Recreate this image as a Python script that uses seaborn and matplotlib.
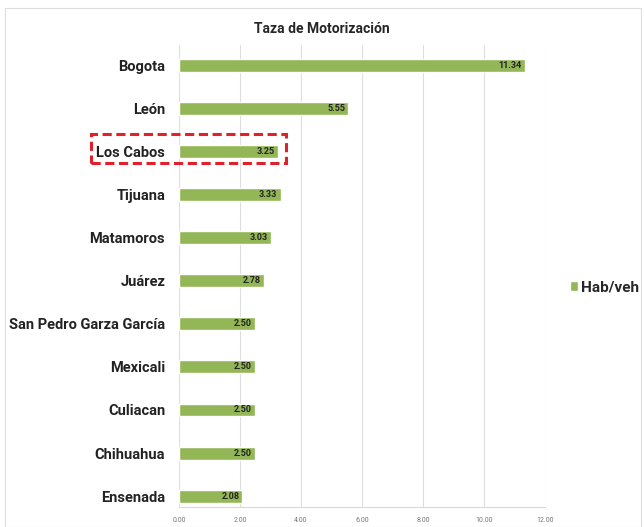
import matplotlib
matplotlib.use("Agg")
import matplotlib.pyplot as plt
import seaborn as sns
import pandas as pd
from matplotlib.patches import Patch, Rectangle

# datos
ciudades = ["Bogota", "León", "Los Cabos", "Tijuana", "Matamoros", "Juárez",
            "San Pedro Garza García", "Mexicali", "Culiacan", "Chihuahua", "Ensenada"]
hab_veh = [11.34, 5.55, 3.25, 3.33, 3.03, 2.78, 2.50, 2.50, 2.50, 2.50, 2.08]
xticks = [0, 2, 4, 6, 8, 10, 12]
titulo = "Taza de Motorización"
serie = "Hab/veh"

df = pd.DataFrame({"ciudad": ciudades, "valor": hab_veh})

sns.set_style("white")
plt.rcParams['font.family'] = ['Roboto', 'DejaVu Sans']

verde = "#93b656"

fig = plt.figure(figsize=(6.44, 5.27), dpi=100)
ax = fig.add_axes([0.278, 0.038, 0.568, 0.877])

sns.barplot(data=df, x="valor", y="ciudad", orient="h", color=verde,
            width=0.3, saturation=1, ax=ax)

ax.set_xlim(0, 12)
ax.set_ylim(10.25, -0.47)
ax.set_xticks(xticks)
ax.set_xticklabels([f"{t:.2f}" for t in xticks], fontsize=5, color="#777777")
ax.tick_params(axis="y", labelsize=10.5, length=0, pad=10)
for lbl in ax.get_yticklabels():
    lbl.set_fontweight("bold")
    lbl.set_color("#222222")
ax.tick_params(axis="x", length=0, pad=7)
ax.set_xlabel("")
ax.set_ylabel("")
ax.grid(axis="x", color="#dedede", linewidth=0.8)
ax.set_axisbelow(True)
for s in ["top", "left", "right"]:
    ax.spines[s].set_visible(False)
ax.spines["bottom"].set_color("#d9d9d9")

# etiquetas de valor dentro de la barra
for i, v in enumerate(hab_veh):
    ax.text(v - 0.1, i, f"{v:.2f}", ha="right", va="center",
            fontsize=6.5, fontweight="bold", color="#222222")

fig.text(0.5, 0.945, titulo, ha="center", va="center", fontsize=10, fontweight="bold")

ax.legend(handles=[Patch(facecolor=verde, label=serie)], loc="center left",
          bbox_to_anchor=(0.880, 0.455), bbox_transform=fig.transFigure,
          frameon=False, handlelength=0.55, handleheight=0.6, handletextpad=0.2,
          borderaxespad=0, borderpad=0.2,
          prop={"size": 11, "weight": "bold"})

# recuadro rojo punteado
fig.patches.append(Rectangle((91 / 644, 1 - 163 / 527), (286 - 91) / 644, 29 / 527,
                             transform=fig.transFigure, fill=False,
                             edgecolor="#e0202a", linestyle=(0, (3, 1.5)), linewidth=2.2))

# borde exterior
fig.patches.append(Rectangle((5 / 644, 0), 636 / 644, 1 - 8 / 527,
                             transform=fig.transFigure, fill=False,
                             edgecolor="#dddddd", linewidth=0.8))

fig.savefig("out.png", dpi=100)
